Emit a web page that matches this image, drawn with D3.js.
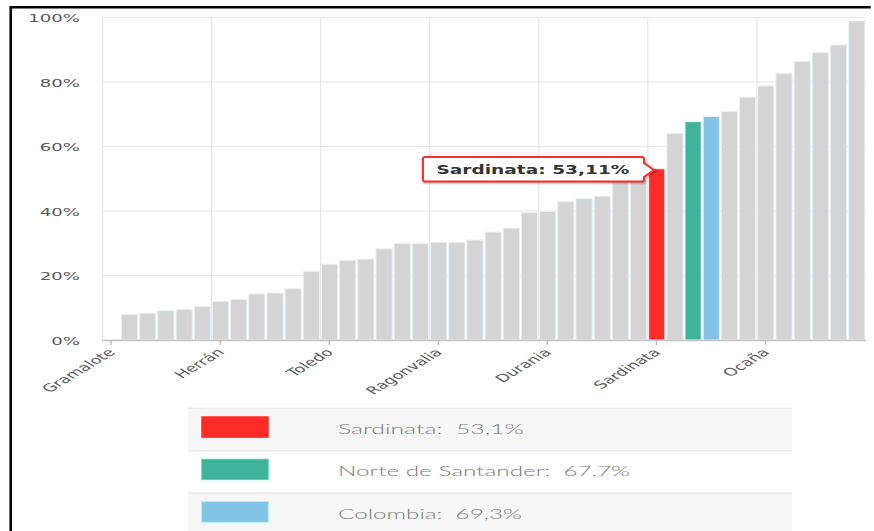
<!DOCTYPE html>
<html>
<head>
<meta charset="utf-8">
<script src="https://cdn.jsdelivr.net/npm/d3@7"></script>
<style>
  html, body { margin: 0; padding: 0; background: #ffffff; }
  svg { display: block; }
  text { white-space: pre; }
</style>
</head>
<body>
<svg id="chart" width="874" height="531"></svg>
<script>
// Municipalities of Norte de Santander ranked by value, with the department
// and national figures placed among them. Unnamed entries carry no axis label.
const categories = [
  "Gramalote", "", "", "", "", "",
  "Herrán", "", "", "", "", "",
  "Toledo", "", "", "", "", "",
  "Ragonvalia", "", "", "", "", "",
  "Durania", "", "", "", "", "",
  "Sardinata", "", "Norte de Santander", "Colombia", "", "",
  "Ocaña", "", "", "", "", ""
];

// Percentage per category (null = no data)
const values = [
  null, 7.9, 8.3, 9.1, 9.5, 10.4,
  12.0, 12.6, 14.3, 14.6, 15.9, 21.3,
  23.5, 24.7, 25.1, 28.3, 29.9, 29.9,
  30.3, 30.3, 31.0, 33.5, 34.7, 39.5,
  39.9, 42.9, 43.9, 44.6, 48.9, 49.6,
  53.11, 64.1, 67.7, 69.3, 70.9, 75.3,
  78.8, 82.6, 86.4, 89.1, 91.5, 98.9
];

const yTicks = [0, 20, 40, 60, 80, 100];
const labelStep = 6;

// Highlighted entries shown in the legend
const legendNames = ["Sardinata", "Norte de Santander", "Colombia"];
const legendColors = ["#ff2b27", "#40b39d", "#82c4e6"];
const tooltipName = "Sardinata";

const barGrey = "#d4d4d4";
const textStretch = 1.65;   // wide lettering of the labels

const plot = { left: 102, right: 865.5, top: 17.5, bottom: 340 };
const svg = d3.select("#chart");

const pct = (v, d) => v.toFixed(d).replace(".", ",") + "%";

const x = d3.scaleBand()
  .domain(d3.range(categories.length))
  .range([plot.left, plot.right])
  .padding(0);

const y = d3.scaleLinear()
  .domain([0, 100])
  .range([plot.bottom, plot.top]);

// Outer frame (left and top edges)
svg.append("path")
  .attr("d", "M10.7,531 V7.2 H870.7")
  .attr("fill", "none")
  .attr("stroke", "#000")
  .attr("stroke-width", 2.5);

// Horizontal grid
svg.append("g").selectAll("line")
  .data(yTicks)
  .join("line")
  .attr("x1", plot.left).attr("x2", plot.right)
  .attr("y1", d => y(d)).attr("y2", d => y(d))
  .attr("stroke", "#e6e6e6")
  .attr("stroke-width", 1.2);

// Vertical grid at the start of each labelled category
const tickIdx = d3.range(categories.length).filter(i => i % labelStep === 0);
svg.append("g").selectAll("line")
  .data(tickIdx)
  .join("line")
  .attr("x1", d => x(d) + 0.5).attr("x2", d => x(d) + 0.5)
  .attr("y1", plot.top).attr("y2", plot.bottom)
  .attr("stroke", "#e6e6e6")
  .attr("stroke-width", 1.2);

// Y axis labels
svg.append("g").selectAll("text")
  .data(yTicks)
  .join("text")
  .attr("transform", d => `translate(80,${y(d) + 1}) scale(${textStretch},1)`)
  .attr("text-anchor", "end")
  .attr("dy", "0.35em")
  .attr("font-family", "DejaVu Sans, sans-serif")
  .attr("font-size", 11)
  .attr("fill", "#5a5a5a")
  .text(d => d + "%");

// Bars
const colorFor = i => {
  const k = legendNames.indexOf(categories[i]);
  return k >= 0 ? legendColors[k] : barGrey;
};
const barW = 16.2;
svg.append("g").selectAll("rect")
  .data(d3.range(categories.length).filter(i => values[i] != null))
  .join("rect")
  .attr("x", i => x(i) + (x.bandwidth() - barW) / 2 + 0.3)
  .attr("y", i => y(values[i]))
  .attr("width", barW)
  .attr("height", i => y(0) - y(values[i]))
  .attr("fill", colorFor)
  .attr("stroke", "#e8f2f8")
  .attr("stroke-width", 1);

// X axis
const xAxis = d3.axisBottom(x)
  .tickValues(tickIdx)
  .tickFormat(i => categories[i])
  .tickSize(5)
  .tickSizeOuter(0);

const gx = svg.append("g")
  .attr("transform", `translate(0,${plot.bottom})`)
  .call(xAxis);
gx.select(".domain").attr("stroke", "#c4c4c4").attr("stroke-width", 1.3);
gx.selectAll(".tick line").attr("stroke", "#b8b8b8").attr("stroke-width", 1.3);
gx.selectAll(".tick text")
  .attr("x", null).attr("y", null).attr("dy", null)
  .attr("text-anchor", "end")
  .attr("transform", `translate(5,13) scale(${textStretch},1) rotate(-45)`)
  .attr("font-family", "DejaVu Sans, sans-serif")
  .attr("font-size", 10.8)
  .attr("fill", "#5a5a5a");

// Tooltip callout on the highlighted municipality
const ti = categories.indexOf(tooltipName);
const tipX = x(ti) + x.bandwidth() / 2 - 2.5;
const tipY = y(values[ti]) + 1.3;
const bx1 = tipX - 10, bx0 = bx1 - 221;
const by0 = tipY - 13, by1 = tipY + 11.5;
const r = 2;
const calloutPath =
  `M${bx0 + r},${by0} H${bx1 - r} Q${bx1},${by0} ${bx1},${by0 + r} ` +
  `V${tipY - 7} L${tipX},${tipY} L${bx1},${tipY + 7} ` +
  `V${by1 - r} Q${bx1},${by1} ${bx1 - r},${by1} H${bx0 + r} ` +
  `Q${bx0},${by1} ${bx0},${by1 - r} V${by0 + r} Q${bx0},${by0} ${bx0 + r},${by0} Z`;

const tip = svg.append("g");
[[5, 0.05], [3, 0.1], [1, 0.15]].forEach(([w, o]) => {
  tip.append("path")
    .attr("d", calloutPath)
    .attr("transform", "translate(1,1)")
    .attr("fill", "none")
    .attr("stroke", "#000")
    .attr("stroke-opacity", o)
    .attr("stroke-width", w);
});
tip.append("path")
  .attr("d", calloutPath)
  .attr("fill", "#ffffff")
  .attr("stroke", legendColors[legendNames.indexOf(tooltipName)])
  .attr("stroke-width", 2);
tip.append("text")
  .attr("x", bx0 + 13.5)
  .attr("y", by0 + 16.8)
  .attr("font-family", "DejaVu Sans, Verdana, sans-serif")
  .attr("font-weight", "bold")
  .attr("font-size", 12)
  .attr("fill", "#333")
  .attr("textLength", 193)
  .attr("lengthAdjust", "spacingAndGlyphs")
  .text(`${tooltipName}: ${pct(values[ti], 2)}`);

// Legend table
const legend = {
  left: 188, right: 792, top: 408.3, rowH: 42.4,
  swX: 201.7, swW: 66.6, swH: 20.7, textX: 338
};
const legendWidths = [186, 292, 184];
const lg = svg.append("g");
legendNames.forEach((name, k) => {
  const top = legend.top + k * legend.rowH;
  lg.append("rect")
    .attr("x", legend.left).attr("y", top)
    .attr("width", legend.right - legend.left).attr("height", legend.rowH)
    .attr("fill", k % 2 === 0 ? "#f7f7f7" : "#ffffff");
  lg.append("line")
    .attr("x1", legend.left).attr("x2", legend.right)
    .attr("y1", top).attr("y2", top)
    .attr("stroke", "#ececec").attr("stroke-width", 1.6);
  lg.append("rect")
    .attr("x", legend.swX).attr("y", top + 8.4)
    .attr("width", legend.swW).attr("height", legend.swH)
    .attr("fill", legendColors[k])
    .attr("stroke", d3.color(legendColors[k]).brighter(0.6))
    .attr("stroke-width", 0.8);
  const v = values[categories.indexOf(name)];
  lg.append("text")
    .attr("x", legend.textX)
    .attr("y", top + 25.5)
    .attr("font-family", "Lato, DejaVu Sans, sans-serif")
    .attr("font-weight", 300)
    .attr("font-size", 14)
    .attr("fill", "#7a7a7a")
    .attr("textLength", legendWidths[k])
    .attr("lengthAdjust", "spacingAndGlyphs")
    .text(`${name}:  ${pct(v, 1)}`);
});
</script>
</body>
</html>
